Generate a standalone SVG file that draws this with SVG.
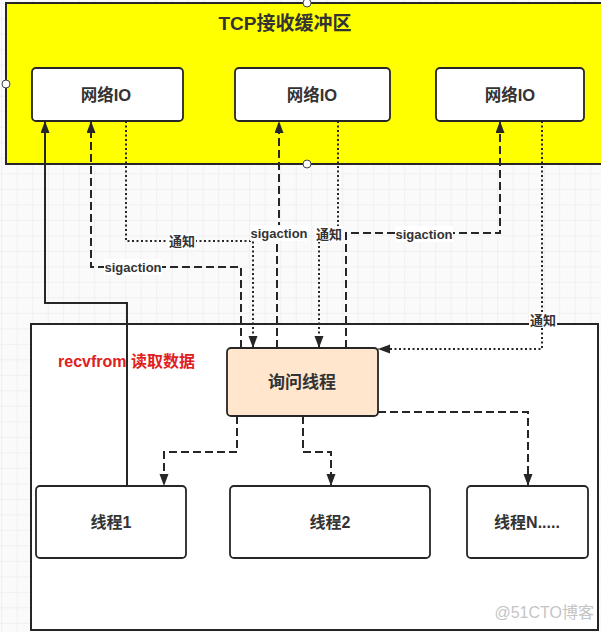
<svg xmlns="http://www.w3.org/2000/svg" width="601" height="632" viewBox="0 0 601 632">
<style>
.box{fill:#fff;stroke:#262626;stroke-width:1.8}
.nt{font-family:"Liberation Sans","Noto Sans CJK SC",sans-serif;font-weight:bold;fill:#333;text-anchor:middle;dominant-baseline:central}
.lbl{font-family:"Liberation Sans","Noto Sans CJK SC",sans-serif;font-weight:bold;fill:#333;font-size:13px;text-anchor:middle;dominant-baseline:central}
.lbg{fill:#fff}
.ln{fill:none;stroke:#262626;stroke-width:2}
.dash{stroke-dasharray:8 4}
.dot{stroke-dasharray:2 2.5}
.h{fill:#fff;stroke:#444;stroke-width:1}
</style>
<defs>
<pattern id="grid" x="1.2" y="2.8" width="15.5" height="15.5" patternUnits="userSpaceOnUse">
<path d="M0,0 H15.5 M0,0 V15.5" fill="none" stroke="#e6e6e6" stroke-width="1"/>
</pattern>
<marker id="arr" markerUnits="userSpaceOnUse" markerWidth="13" markerHeight="10" refX="12" refY="4.5" orient="auto">
<path d="M0,0 L12,4.5 L0,9 z" fill="#262626"/>
</marker>
</defs>
<rect x="0" y="0" width="601" height="632" fill="#fafafa"/>
<rect x="0" y="0" width="601" height="632" fill="url(#grid)"/>

<g id="tcp-buffer">
<rect x="6" y="3" width="600" height="161" fill="#ffff00" stroke="#262626" stroke-width="2"/>
<text class="nt" x="285" y="23" font-size="19">TCP接收缓冲区</text>
</g>

<g id="process-area">
<rect x="31" y="324" width="567" height="306" fill="#fff" stroke="#262626" stroke-width="2"/>
<text x="58" y="361" font-family="Liberation Sans,'Noto Sans CJK SC',sans-serif" font-weight="bold" font-size="16" fill="#e02020" dominant-baseline="central">recvfrom 读取数据</text>
</g>

<g id="io1"><rect class="box" x="32" y="68" width="151" height="53" rx="4"/><text class="nt" x="106" y="95" font-size="16.5">网络IO</text></g>
<g id="io2"><rect class="box" x="235" y="68" width="155" height="53" rx="4"/><text class="nt" x="312" y="95" font-size="16.5">网络IO</text></g>
<g id="io3"><rect class="box" x="436" y="68" width="148" height="53" rx="4"/><text class="nt" x="510" y="95" font-size="16.5">网络IO</text></g>

<g id="poll-thread"><rect x="227" y="348" width="151" height="68" rx="4" fill="#ffe6cc" stroke="#262626" stroke-width="1.8"/><text class="nt" x="302" y="382" font-size="17">询问线程</text></g>

<g id="thread1"><rect class="box" x="36" y="486" width="150" height="72" rx="4"/><text class="nt" x="111" y="522" font-size="16">线程1</text></g>
<g id="thread2"><rect class="box" x="230" y="486" width="200" height="72" rx="4"/><text class="nt" x="330" y="522" font-size="16">线程2</text></g>
<g id="threadN"><rect class="box" x="467" y="486" width="121" height="72" rx="4"/><text class="nt" x="527" y="522" font-size="16">线程N.....</text></g>

<g id="connectors">
<path class="ln" d="M127,486 V303 H45 V121" marker-end="url(#arr)"/>
<path class="ln dash" d="M241,348 V267 H91 V121" marker-end="url(#arr)"/>
<path class="ln dot" d="M126,121 V241 H253 V348" marker-end="url(#arr)"/>
<path class="ln dash" d="M277,348 V240 H279 V121" marker-end="url(#arr)"/>
<path class="ln dot" d="M338,121 V234 H319 V348" marker-end="url(#arr)"/>
<path class="ln dash" d="M346,348 V233 H500 V121" marker-end="url(#arr)"/>
<path class="ln dot" d="M542,121 V349 H378" marker-end="url(#arr)"/>
<path class="ln dash" d="M237,416 V452 H164 V486" marker-end="url(#arr)"/>
<path class="ln dash" d="M303,416 V452 H331 V486" marker-end="url(#arr)"/>
<path class="ln dash" d="M378,412 H528 V486" marker-end="url(#arr)"/>

<rect class="lbg" x="168" y="233" width="28" height="16"/><text class="lbl" x="182" y="241">通知</text>
<rect class="lbg" x="104" y="259" width="58" height="16"/><text class="lbl" x="133" y="267">sigaction</text>
<rect class="lbg" x="250" y="225" width="58" height="16"/><text class="lbl" x="279" y="233">sigaction</text>
<rect class="lbg" x="315" y="226" width="28" height="16"/><text class="lbl" x="329" y="234">通知</text>
<rect class="lbg" x="395" y="226" width="58" height="16"/><text class="lbl" x="424" y="234">sigaction</text>
<rect class="lbg" x="529" y="312" width="28" height="16"/><text class="lbl" x="543" y="320">通知</text>
</g>

<circle class="h" cx="307" cy="3" r="4"/>
<circle class="h" cx="6" cy="84" r="4"/>
<circle class="h" cx="307" cy="164" r="4"/>

<text x="594" y="612" font-family="Liberation Sans,'Noto Sans CJK SC',sans-serif" font-size="16" fill="#c4c4c4" text-anchor="end" dominant-baseline="central">@51CTO博客</text>
</svg>
